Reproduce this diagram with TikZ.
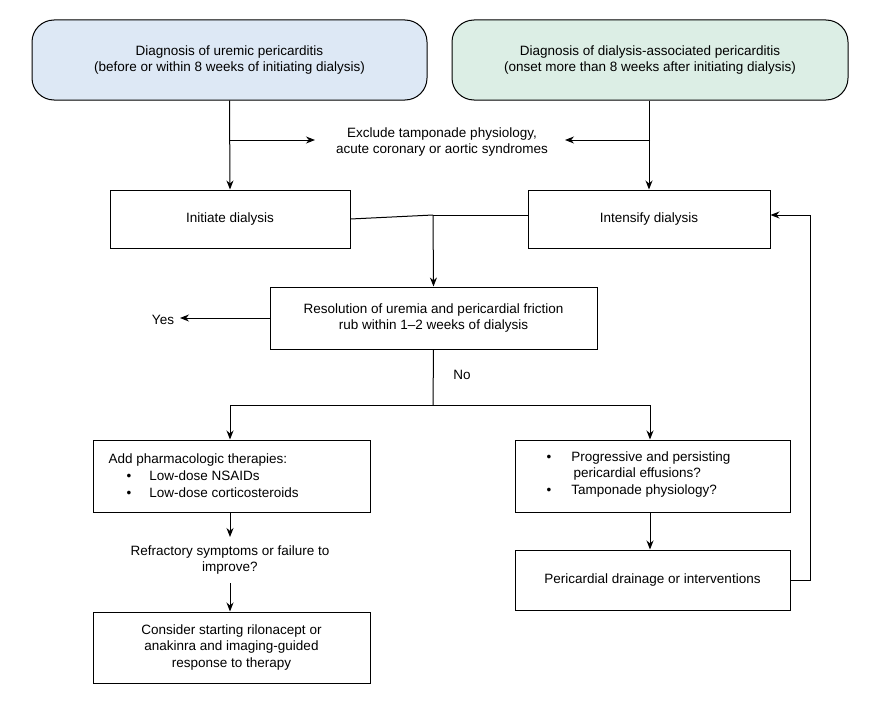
\documentclass[tikz,border=0pt]{standalone}
\usepackage{fontspec}
\setmainfont{Liberation Sans}
\usetikzlibrary{arrows.meta}
\definecolor{lblue}{HTML}{DDE8F5}
\definecolor{lgreen}{HTML}{DCEEE5}
\begin{document}
\begin{tikzpicture}[x=1pt,y=-1pt,
  every node/.style={font=\fontsize{13.5}{16.5}\selectfont},
  box/.style={draw,line width=1pt,align=center,inner sep=0pt},
  arr/.style={line width=1pt,-{Stealth[length=9pt,width=7pt]}},
  ln/.style={line width=1pt}]
\useasboundingbox (0,0) rectangle (878,701);
\node[box,rounded corners=22pt,fill=lblue,minimum width=395pt,minimum height=80pt] (d1) at (229.5,60) {Diagnosis of uremic pericarditis\\(before or within 8 weeks of initiating dialysis)};
\node[box,rounded corners=22pt,fill=lgreen,minimum width=396pt,minimum height=80pt] (d2) at (650,60) {Diagnosis of dialysis-associated pericarditis\\(onset more than 8 weeks after initiating dialysis)};
\node[align=center] (ex) at (442,142) {Exclude tamponade physiology,\\acute coronary or aortic syndromes};
\node[box,minimum width=240pt,minimum height=58pt] (ini) at (230,219) {Initiate dialysis};
\node[box,minimum width=242pt,minimum height=58pt] (int) at (649,219) {Intensify dialysis};
\node[box,minimum width=327pt,minimum height=62pt] (res) at (433.5,318) {Resolution of uremia and pericardial friction\\rub within 1--2 weeks of dialysis};
\node (yes) at (163,320) {Yes};
\node (no) at (462,375) {No};
\node[box,minimum width=277pt,minimum height=72pt] (ph) at (231.5,476) {};
\node[align=left,anchor=north west] at (105,450) {Add pharmacologic therapies:\\[1pt]
\hspace*{18pt}\textbullet\hspace{18pt}Low-dose NSAIDs\\
\hspace*{18pt}\textbullet\hspace{18pt}Low-dose corticosteroids};
\node[align=center] (ref) at (230,560) {Refractory symptoms or failure to\\improve?};
\node[box,minimum width=277pt,minimum height=71pt] (con) at (231.5,647.5) {Consider starting rilonacept or\\anakinra and imaging-guided\\response to therapy};
\node[box,minimum width=275pt,minimum height=72pt] (pr) at (652.5,476) {};
\node[align=left,anchor=north west] at (543,448) {\textbullet\hspace{20pt}Progressive and persisting\\
\hspace*{27pt}pericardial effusions?\\
\textbullet\hspace{20pt}Tamponade physiology?};
\node[box,minimum width=275pt,minimum height=60pt] (dr) at (652.5,580) {Pericardial drainage or interventions};
\draw[arr] (d1.south) -- (ini.north);
\draw[arr] (d2.south -| int.north) -- (int.north);
\draw[arr] (230,140) -- (315,140);
\draw[arr] (650,140) -- (565,140);
\draw[ln] (ini.east) -- (433,215);
\draw[ln] (int.west |- 0,215) -- (433,215);
\draw[arr] (433,215) -- (res.north);
\draw[arr] (res.west) -- (180,318);
\draw[ln] (res.south) -- (433,405);
\draw[ln] (230,405) -- (650,405);
\draw[arr] (230,405) -- (ph.north -| 230,0);
\draw[arr] (650,405) -- (pr.north -| 650,0);
\draw[arr] (230,512) -- (230,537);
\draw[arr] (230,583) -- (con.north -| 230,0);
\draw[arr] (650,512) -- (dr.north -| 650,0);
\draw[ln] (dr.east) -- (810,580) -- (810,215);
\draw[arr] (810,215) -- (int.east |- 0,215);
\end{tikzpicture}
\end{document}
